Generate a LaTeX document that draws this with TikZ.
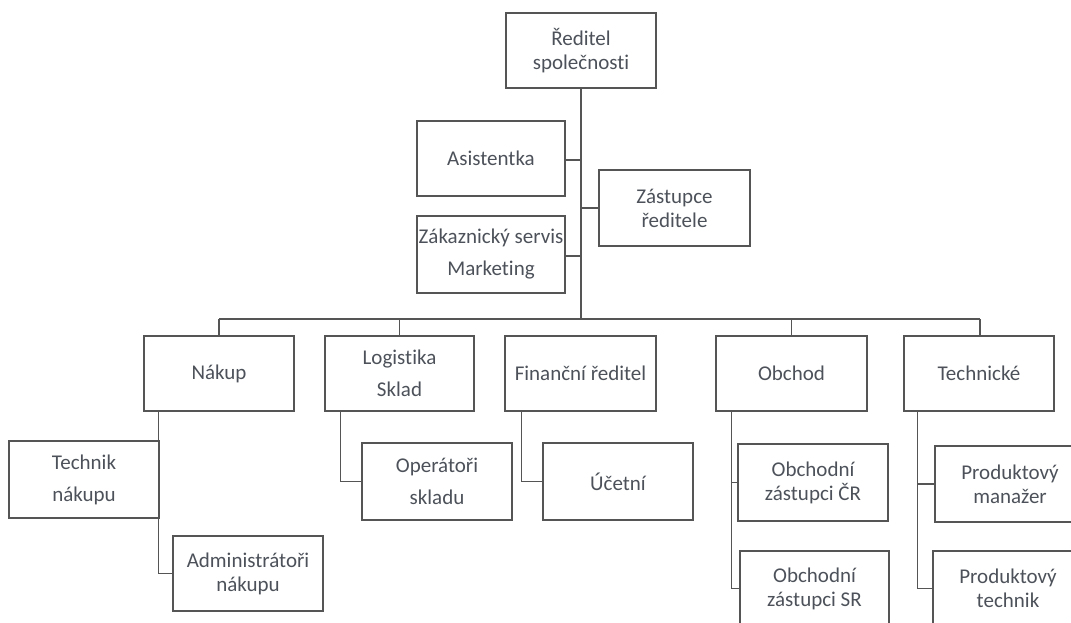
\documentclass[tikz,border=0pt]{standalone}
\usepackage{fontspec}
\setmainfont{Carlito}[Ligatures=NoCommon]
\definecolor{linegray}{HTML}{555555}
\definecolor{textgray}{HTML}{4D525A}
\tikzset{
  unit/.style={draw=linegray, line width=1.4pt, fill=white, inner sep=0pt,
    minimum width=150pt, minimum height=75pt, align=center, text=textgray,
    font=\fontsize{21}{24}\selectfont},
  loose/.style={font=\fontsize{21}{32}\selectfont},
  link/.style={draw=linegray, line width=1.4pt}
}
\begin{document}
\begin{tikzpicture}[x=1pt,y=-1pt]
\clip (0,0) rectangle (1071,622);
\fill[white] (0,0) rectangle (1071,622);

% management level
\node[unit] (red) at (581,50.5) {Ředitel\\společnosti};
\node[unit, minimum width=148pt] (asist) at (491,158.5) {Asistentka};
\node[unit, minimum width=151pt, minimum height=76pt] (zast) at (674.5,208) {Zástupce\\ředitele};
\node[unit, loose, minimum width=148pt, minimum height=77pt] (zak) at (491,254.5) {Zákaznický servis\\Marketing};

% departments
\node[unit] (nakup) at (219,373.5) {Nákup};
\node[unit, loose, minimum width=149pt] (logist) at (399.5,373.5) {Logistika\\Sklad};
\node[unit, minimum width=151pt] (fin) at (580.5,373.5) {Finanční ředitel};
\node[unit, minimum width=151pt] (obchod) at (791.5,373.5) {Obchod};
\node[unit] (tech) at (979,373.5) {Technické};

% staff
\node[unit, loose, minimum height=77pt] (technik) at (84,479.5) {Technik\\nákupu};
\node[unit] (admin) at (248,573.5) {Administrátoři\\nákupu};
\node[unit, loose, minimum height=77pt] (oper) at (437,481.5) {Operátoři\\skladu};
\node[unit, minimum height=77pt] (ucet) at (618,481.5) {Účetní};
\node[unit, minimum height=77pt] (obcr) at (813,482.5) {Obchodní\\zástupci ČR};
\node[unit, minimum width=149pt] (obsr) at (814.5,588.5) {Obchodní\\zástupci SR};
\node[unit, minimum height=76pt] (prodm) at (1010,484) {Produktový\\manažer};
\node[unit] (prodt) at (1008,588.5) {Produktový\\technik};

% trunk and bus
\coordinate (bus) at (581,319);
\draw[link] (red.south) -- (bus);
\draw[link] ([yshift=-1.5pt]asist.east) -- ([yshift=-1.5pt]asist.east -| bus);
\draw[link] (zast.west) -- (zast.west -| bus);
\draw[link] ([yshift=-1.5pt]zak.east) -- ([yshift=-1.5pt]zak.east -| bus);
\draw[link] (nakup.north |- bus) -- ([xshift=1pt]tech.north |- bus);
\foreach \d in {nakup,logist,obchod}
  \draw[link] (\d.north) -- (\d.north |- bus);
\draw[link] ([xshift=1pt]tech.north) -- ([xshift=1pt]tech.north |- bus);

% branches to staff
\draw[link] ([xshift=15pt]nakup.south west) |- (admin.west);
\draw[link] ([xshift=16pt]logist.south west) |- (oper.west);
\draw[link] ([xshift=17pt]fin.south west) |- (ucet.west);
\draw[link] ([xshift=16pt]obchod.south west) |- (obsr.west);
\draw[link] ([xshift=16pt]obchod.south west |- obcr.west) -- (obcr.west);
\draw[link] ([xshift=14pt]tech.south west) |- (prodt.west);
\draw[link] ([xshift=14pt]tech.south west |- prodm.west) -- (prodm.west);
\end{tikzpicture}
\end{document}
